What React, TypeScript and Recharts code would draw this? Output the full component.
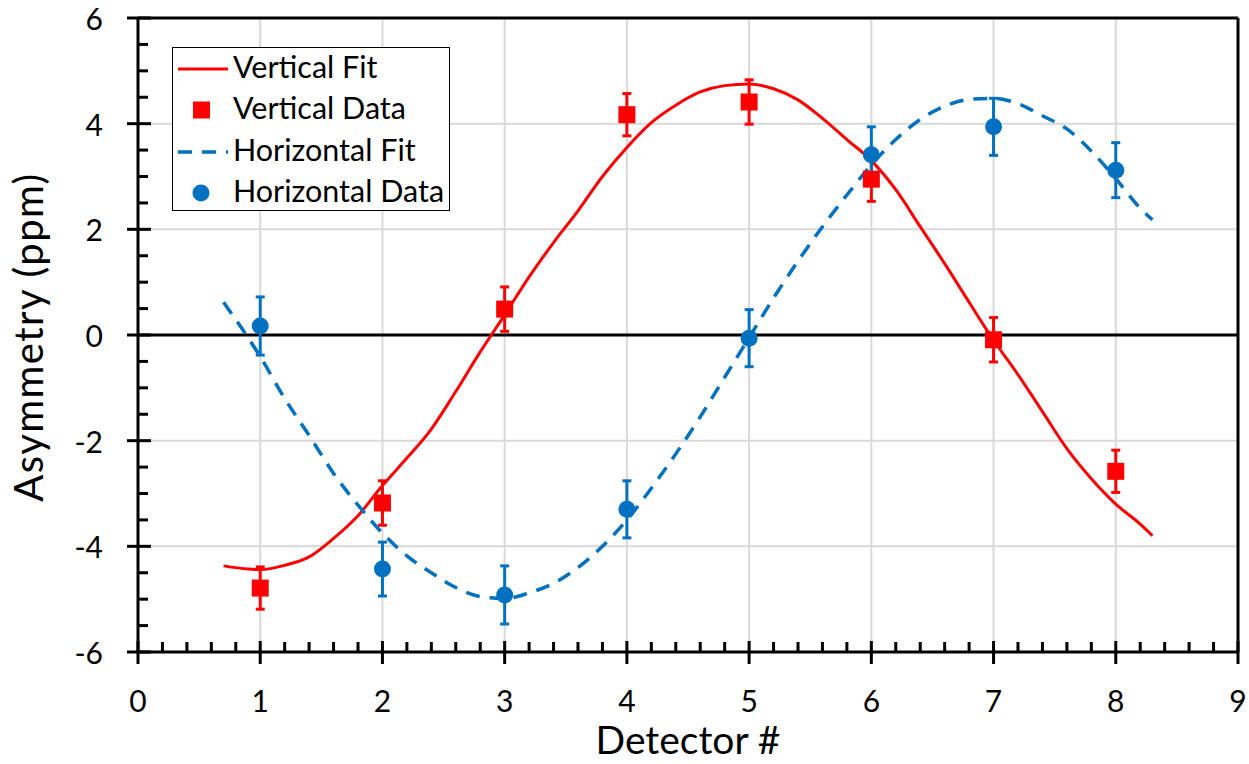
import React from 'react';
import {
  ComposedChart,
  Line,
  Scatter,
  ErrorBar,
  XAxis,
  YAxis,
  CartesianGrid,
  ReferenceLine,
  Legend,
  Label,
} from 'recharts';

const detectors = [1, 2, 3, 4, 5, 6, 7, 8];
const verticalData = [-4.79, -3.18, 0.49, 4.17, 4.41, 2.95, -0.09, -2.58];
const verticalErr = [0.4, 0.42, 0.42, 0.4, 0.42, 0.42, 0.42, 0.4];
const horizontalData = [0.17, -4.43, -4.92, -3.3, -0.06, 3.41, 3.94, 3.12];
const horizontalErr = [0.55, 0.51, 0.55, 0.54, 0.54, 0.53, 0.54, 0.52];

const fitX = [
  0.7, 0.9, 1.0, 1.2, 1.4, 1.6, 1.8, 2.0, 2.2, 2.4, 2.6, 2.8, 3.0, 3.2, 3.4, 3.6, 3.8, 4.0, 4.2, 4.4,
  4.6, 4.8, 5.0, 5.2, 5.4, 5.6, 5.8, 6.0, 6.2, 6.4, 6.6, 6.8, 7.0, 7.2, 7.4, 7.6, 7.8, 8.0, 8.2, 8.3,
];
const verticalFit = [
  -4.37, -4.43, -4.44, -4.36, -4.2, -3.85, -3.42, -2.85, -2.33, -1.78, -1.07, -0.32, 0.38, 1.1, 1.75,
  2.35, 3.0, 3.55, 4.02, 4.35, 4.6, 4.72, 4.75, 4.66, 4.45, 4.1, 3.7, 3.3, 2.75, 2.05, 1.35, 0.62, -0.1,
  -0.75, -1.45, -2.15, -2.72, -3.2, -3.58, -3.8,
];
const horizontalFit = [
  0.62, -0.05, -0.41, -1.2, -1.9, -2.62, -3.22, -3.75, -4.18, -4.5, -4.78, -4.95, -4.99, -4.88, -4.7,
  -4.4, -4.0, -3.5, -2.9, -2.25, -1.55, -0.8, -0.05, 0.7, 1.4, 2.05, 2.65, 3.22, 3.7, 4.08, 4.33, 4.46,
  4.48, 4.38, 4.15, 3.9, 3.48, 2.96, 2.4, 2.18,
];

const xMajor = [0, 1, 2, 3, 4, 5, 6, 7, 8, 9];
const yMajor = [-6, -4, -2, 0, 2, 4, 6];

const RED = '#FF0000';
const BLUE = '#0070C0';
const FONT = 'Lato, "Open Sans", sans-serif';

const vFitRows = fitX.map((x, i) => ({ x, y: verticalFit[i] }));
const hFitRows = fitX.map((x, i) => ({ x, y: horizontalFit[i] }));
const vDataRows = detectors.map((x, i) => ({ x, y: verticalData[i], err: verticalErr[i] }));
const hDataRows = detectors.map((x, i) => ({ x, y: horizontalData[i], err: horizontalErr[i] }));

// minor ticks: 0.2 on x, 0.5 on y
const xTicks: number[] = [];
for (let i = 0; i <= 45; i++) xTicks.push(Math.round(i * 2) / 10);
const yTicks: number[] = [];
for (let i = -12; i <= 12; i++) yTicks.push(i / 2);

const isMajor = (v: number, list: number[]) => list.some((m) => Math.abs(m - v) < 1e-6);

const XTick = (props: any) => {
  const { x, y, payload } = props;
  const v = payload.value;
  if (!isMajor(v, xMajor)) {
    return <line x1={x} x2={x} y1={y} y2={y - 10} stroke="#000" strokeWidth={3} />;
  }
  return (
    <g>
      <line x1={x} x2={x} y1={y - 11} y2={y + 12} stroke="#000" strokeWidth={3} />
      <text x={x} y={y + 60} textAnchor="middle" fontSize={30} fill="#000" fontFamily={FONT}>
        {v}
      </text>
    </g>
  );
};

const YTick = (props: any) => {
  const { x, y, payload } = props;
  const v = payload.value;
  if (!isMajor(v, yMajor)) {
    return <line x1={x} x2={x + 10} y1={y} y2={y} stroke="#000" strokeWidth={3} />;
  }
  return (
    <g>
      <line x1={x - 11} x2={x + 13} y1={y} y2={y} stroke="#000" strokeWidth={3} />
      <text x={x - 35} y={y + 12} textAnchor="end" fontSize={30} fill="#000" fontFamily={FONT}>
        {v}
      </text>
    </g>
  );
};

const Square = (p: any) => <rect x={p.cx - 8.5} y={p.cy - 8.5} width={17} height={17} fill={RED} />;
const Dot = (p: any) => <circle cx={p.cx} cy={p.cy} r={8.5} fill={BLUE} />;

const legendItems = [
  { name: 'Vertical Fit', kind: 'line' },
  { name: 'Vertical Data', kind: 'square' },
  { name: 'Horizontal Fit', kind: 'dash' },
  { name: 'Horizontal Data', kind: 'circle' },
];

const LegendBox = () => (
  <div
    style={{
      width: 276,
      height: 162,
      border: '1.5px solid #000',
      background: '#fff',
      fontFamily: FONT,
      fontSize: 30.5,
      color: '#000',
    }}
  >
    {legendItems.map((it) => (
      <div key={it.name} style={{ display: 'flex', alignItems: 'center', height: 41.5 }}>
        <svg width={60} height={20} style={{ flex: 'none' }}>
          {it.kind === 'line' && <line x1={5} x2={55} y1={10} y2={10} stroke={RED} strokeWidth={3} />}
          {it.kind === 'dash' && (
            <line x1={5} x2={55} y1={10} y2={10} stroke={BLUE} strokeWidth={3.5} strokeDasharray="14 10" />
          )}
          {it.kind === 'square' && <rect x={20} y={1.5} width={17} height={17} fill={RED} />}
          {it.kind === 'circle' && <circle cx={28} cy={10} r={8.5} fill={BLUE} />}
        </svg>
        <span style={{ whiteSpace: 'nowrap', lineHeight: 1, position: 'relative', top: -3 }}>{it.name}</span>
      </div>
    ))}
  </div>
);

export default function App() {
  return (
    <div style={{ position: 'absolute', left: 0, top: 0, fontFamily: FONT }}>
      <ComposedChart width={1249} height={764} margin={{ top: 18, right: 11, bottom: 0, left: 0 }}>
        <CartesianGrid
          stroke="#D9D9D9"
          strokeWidth={2}
          horizontalValues={[-4, -2, 2, 4]}
          verticalValues={[1, 2, 3, 4, 5, 6, 7, 8]}
        />
        <XAxis
          type="number"
          dataKey="x"
          domain={[0, 9]}
          ticks={xTicks}
          interval={0}
          height={112}
          tickSize={0}
          tickMargin={0}
          tickLine={false}
          axisLine={{ stroke: '#000', strokeWidth: 3 }}
          tick={<XTick />}
          allowDataOverflow
        >
          <Label
            content={(p: any) => (
              <text
                x={p.viewBox.x + p.viewBox.width / 2}
                y={p.viewBox.y + 102}
                textAnchor="middle"
                fontSize={39}
                fill="#000"
                fontFamily={FONT}
              >
                Detector #
              </text>
            )}
          />
        </XAxis>
        <YAxis
          type="number"
          domain={[-6, 6]}
          ticks={yTicks}
          interval={0}
          width={138}
          tickSize={0}
          tickMargin={0}
          tickLine={false}
          axisLine={{ stroke: '#000', strokeWidth: 3 }}
          tick={<YTick />}
          allowDataOverflow
        >
          <Label
            content={(p: any) => {
              const px = p.viewBox.x + 43;
              const py = p.viewBox.y + p.viewBox.height / 2 + 2;
              return (
                <text
                  x={px}
                  y={py}
                  transform={`rotate(-90 ${px} ${py})`}
                  textAnchor="middle"
                  fontSize={40}
                  letterSpacing={1.4}
                  fill="#000"
                  fontFamily={FONT}
                >
                  Asymmetry (ppm)
                </text>
              );
            }}
          />
        </YAxis>
        <ReferenceLine y={0} stroke="#000" strokeWidth={3} />
        <ReferenceLine y={6} stroke="#000" strokeWidth={3} />
        <ReferenceLine x={9} stroke="#000" strokeWidth={3} />
        <Line
          data={vFitRows}
          dataKey="y"
          type="monotone"
          stroke={RED}
          strokeWidth={3}
          dot={false}
          activeDot={false}
          isAnimationActive={false}
          legendType="none"
        />
        <Line
          data={hFitRows}
          dataKey="y"
          type="monotone"
          stroke={BLUE}
          strokeWidth={3.5}
          strokeDasharray="14 10"
          dot={false}
          activeDot={false}
          isAnimationActive={false}
          legendType="none"
        />
        <Scatter data={vDataRows} dataKey="y" shape={<Square />} isAnimationActive={false}>
          <ErrorBar dataKey="err" direction="y" width={4.5} strokeWidth={3} stroke={RED} />
        </Scatter>
        <Scatter data={hDataRows} dataKey="y" shape={<Dot />} isAnimationActive={false}>
          <ErrorBar dataKey="err" direction="y" width={4.5} strokeWidth={3} stroke={BLUE} />
        </Scatter>
        <Legend
          layout="horizontal"
          verticalAlign="middle"
          align="center"
          content={<LegendBox />}
          wrapperStyle={{ left: 172, top: 47, width: 'auto', height: 'auto' }}
        />
      </ComposedChart>
    </div>
  );
}
